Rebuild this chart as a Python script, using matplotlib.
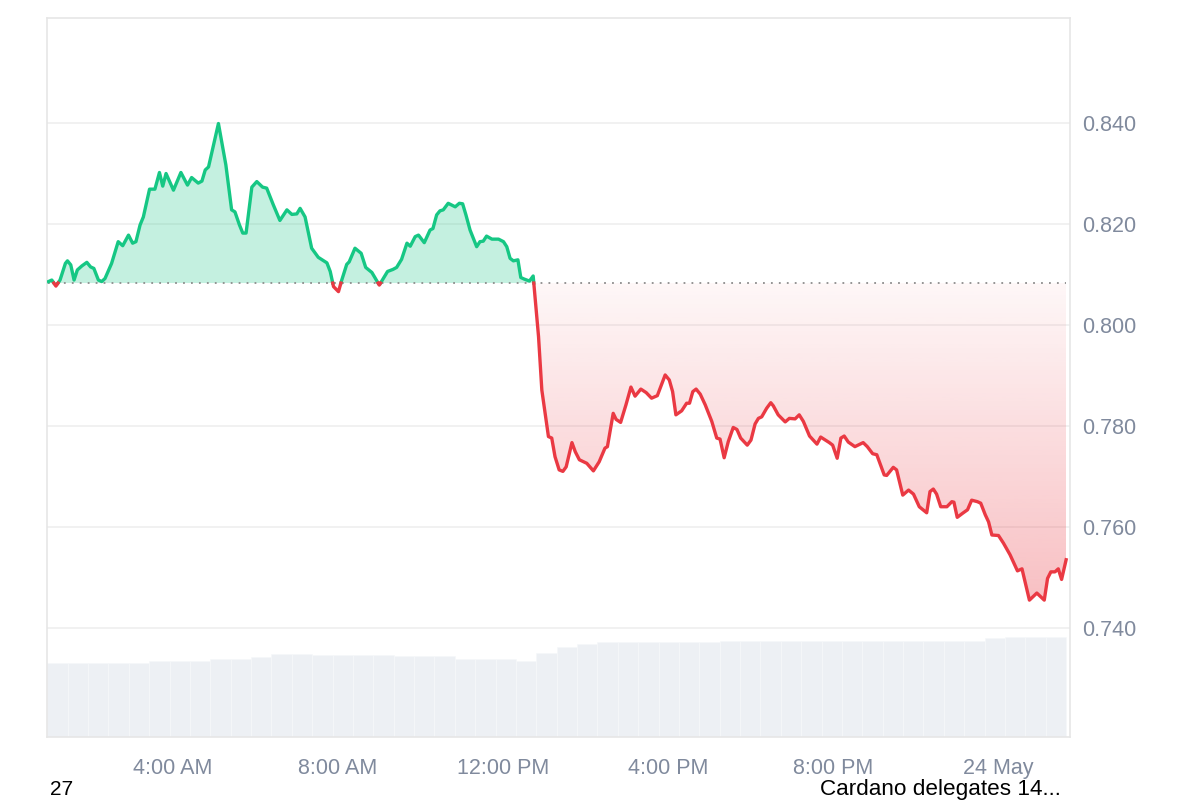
import numpy as np
import matplotlib.pyplot as plt
from matplotlib.colors import LinearSegmentedColormap, to_rgb
from matplotlib.patches import PathPatch
from matplotlib.path import Path

plt.rcParams["font.family"] = ["Liberation Sans", "DejaVu Sans"]

# ADA price, hours since 00:00 on 23 May
hours = [0.98, 1.06, 1.16, 1.26, 1.39, 1.44, 1.52, 1.60, 1.68, 1.79, 1.91, 2.00, 2.08, 2.19, 2.27,
         2.35, 2.51, 2.67, 2.78, 2.92, 3.02, 3.10, 3.20, 3.28, 3.43, 3.56, 3.67, 3.75, 3.83, 4.01,
         4.19, 4.35, 4.45, 4.61, 4.70, 4.78, 4.86, 5.10, 5.28, 5.42, 5.50, 5.61, 5.69, 5.77, 5.91,
         6.03, 6.17, 6.27, 6.43, 6.59, 6.76, 6.88, 7.00, 7.08, 7.20, 7.36, 7.52, 7.73, 7.81, 7.89,
         8.01, 8.09, 8.21, 8.27, 8.41, 8.56, 8.67, 8.82, 9.00, 9.20, 9.33, 9.42, 9.54, 9.67, 9.75,
         9.87, 9.95, 10.09, 10.23, 10.30, 10.39, 10.47, 10.55, 10.67, 10.84, 10.94, 11.02, 11.10,
         11.20, 11.36, 11.44, 11.52, 11.60, 11.73, 11.89, 12.01, 12.09, 12.17, 12.25, 12.36, 12.43,
         12.51, 12.64, 12.73, 12.86, 12.94, 13.10, 13.18, 13.26, 13.36, 13.45, 13.53, 13.67, 13.75,
         13.85, 14.03, 14.19, 14.33, 14.47, 14.53, 14.67, 14.74, 14.85, 14.98, 15.10, 15.20, 15.34,
         15.47, 15.60, 15.74, 15.93, 16.03, 16.11, 16.19, 16.33, 16.45, 16.52, 16.60, 16.68, 16.78,
         16.90, 17.06, 17.18, 17.26, 17.36, 17.46, 17.58, 17.67, 17.76, 17.92, 18.01, 18.11, 18.19,
         18.27, 18.39, 18.49, 18.55, 18.67, 18.84, 18.94, 19.08, 19.18, 19.28, 19.43, 19.61, 19.70,
         19.91, 19.99, 20.10, 20.19, 20.27, 20.37, 20.53, 20.73, 20.83, 20.96, 21.06, 21.24, 21.30,
         21.46, 21.54, 21.69, 21.83, 21.95, 22.09, 22.27, 22.35, 22.43, 22.51, 22.61, 22.76, 22.88,
         22.93, 23.01, 23.14, 23.26, 23.36, 23.50, 23.58, 23.69, 23.77, 23.85, 24.01, 24.13, 24.29,
         24.37, 24.47, 24.58, 24.76, 24.94, 25.12, 25.20, 25.28, 25.38, 25.46, 25.54, 25.65]
price = [0.8086, 0.8089, 0.8077, 0.8089, 0.8122, 0.8127, 0.8119, 0.8089, 0.8109, 0.8117, 0.8124,
         0.8115, 0.8112, 0.8089, 0.8086, 0.8092, 0.8122, 0.8165, 0.8157, 0.8178, 0.8162, 0.8165,
         0.8198, 0.8214, 0.8269, 0.8269, 0.8302, 0.8275, 0.8300, 0.8267, 0.8302, 0.8277, 0.8292,
         0.8281, 0.8285, 0.8307, 0.8313, 0.8399, 0.8317, 0.8228, 0.8224, 0.8198, 0.8182, 0.8182,
         0.8273, 0.8284, 0.8273, 0.8271, 0.8238, 0.8207, 0.8228, 0.8219, 0.8220, 0.8231, 0.8214,
         0.8152, 0.8134, 0.8123, 0.8106, 0.8076, 0.8066, 0.8089, 0.8120, 0.8125, 0.8152, 0.8142,
         0.8114, 0.8104, 0.8079, 0.8106, 0.8110, 0.8114, 0.8130, 0.8162, 0.8156, 0.8175, 0.8178,
         0.8163, 0.8188, 0.8191, 0.8218, 0.8226, 0.8228, 0.8241, 0.8234, 0.8241, 0.8240, 0.8218,
         0.8188, 0.8155, 0.8165, 0.8166, 0.8176, 0.8170, 0.8170, 0.8165, 0.8155, 0.8132, 0.8127,
         0.8129, 0.8094, 0.8091, 0.8087, 0.8097, 0.7977, 0.7871, 0.7779, 0.7776, 0.7739, 0.7713,
         0.7710, 0.7719, 0.7767, 0.7749, 0.7733, 0.7726, 0.7711, 0.7729, 0.7756, 0.7759, 0.7825,
         0.7813, 0.7807, 0.7842, 0.7877, 0.7859, 0.7873, 0.7866, 0.7855, 0.7860, 0.7901, 0.7891,
         0.7868, 0.7822, 0.7830, 0.7845, 0.7845, 0.7868, 0.7873, 0.7863, 0.7842, 0.7809, 0.7776,
         0.7774, 0.7737, 0.7769, 0.7797, 0.7793, 0.7776, 0.7762, 0.7772, 0.7804, 0.7815, 0.7818,
         0.7835, 0.7846, 0.7840, 0.7822, 0.7808, 0.7815, 0.7814, 0.7822, 0.7809, 0.7780, 0.7764,
         0.7778, 0.7767, 0.7762, 0.7736, 0.7776, 0.7780, 0.7768, 0.7759, 0.7767, 0.7759, 0.7745,
         0.7743, 0.7703, 0.7702, 0.7718, 0.7713, 0.7663, 0.7673, 0.7665, 0.7640, 0.7628, 0.7670,
         0.7675, 0.7665, 0.7640, 0.7640, 0.7650, 0.7649, 0.7619, 0.7627, 0.7634, 0.7653, 0.7650,
         0.7647, 0.7624, 0.7610, 0.7584, 0.7583, 0.7568, 0.7545, 0.7531, 0.7513, 0.7517, 0.7455,
         0.7469, 0.7455, 0.7498, 0.7511, 0.7511, 0.7517, 0.7496, 0.7535]
base = 0.8083  # opening price (dotted line)

# 24h volume ($M), roughly half-hour bars
vol_hours = [0.95 + 0.494 * i for i in range(50)]
volume = [297, 297, 297, 297, 297, 305, 305, 305, 311, 311, 321, 331, 331, 329, 329, 329, 329,
          324, 324, 324, 312, 312, 312, 305, 336, 359, 371, 379, 379, 379, 379, 379, 379, 385,
          385, 385, 385, 385, 385, 385, 385, 385, 385, 385, 385, 385, 395, 401, 401, 401]

xtick_hours = [4, 8, 12, 16, 20, 24]
xtick_labels = ["4:00 AM", "8:00 AM", "12:00 PM", "4:00 PM", "8:00 PM", "24 May"]
yticks = [0.740, 0.760, 0.780, 0.800, 0.820, 0.840]

GREEN = "#16c784"
RED = "#ea3943"
GREY = "#808a9d"

fig = plt.figure(figsize=(12, 8), dpi=100)
ax = fig.add_axes([0.0392, 0.0788, 0.8525, 0.8987])
axv = ax.twinx()
ax.set_zorder(axv.get_zorder() + 1)
ax.patch.set_visible(False)

# volume bars underneath
axv.bar(vol_hours, volume, width=0.494, align="edge", color="#edf0f4",
        edgecolor="#f6f8fa", linewidth=0.5)
axv.set_ylim(0, 2876)
axv.set_yticks([])
for s in axv.spines.values():
    s.set_visible(False)

# add crossing points so colours switch exactly on the base line
h = np.array(hours)
p = np.array(price)
hh, pp = [h[0]], [p[0]]
for i in range(1, len(h)):
    a, b = p[i - 1] - base, p[i] - base
    if a * b < 0:
        t = a / (a - b)
        hh.append(h[i - 1] + t * (h[i] - h[i - 1]))
        pp.append(base)
    hh.append(h[i])
    pp.append(p[i])
hh = np.array(hh)
pp = np.array(pp)

ax.fill_between(hh, pp, base, where=pp >= base, color=GREEN, alpha=0.25, lw=0, zorder=2)

# red gradient fill below the base line
red_poly = ax.fill_between(hh, pp, base, where=pp <= base, facecolor="none", lw=0)
clip = Path.make_compound_path(*red_poly.get_paths())
clip_patch = PathPatch(clip, transform=ax.transData, facecolor="none", edgecolor="none")
ax.add_patch(clip_patch)
r, g, b = to_rgb(RED)
cmap = LinearSegmentedColormap.from_list("redfade", [(r, g, b, 0.32), (r, g, b, 0.04)])
grad = np.linspace(0, 1, 256).reshape(-1, 1)
img = ax.imshow(grad, cmap=cmap, aspect="auto", origin="lower",
                extent=[hh.min(), hh.max(), pp.min(), base], zorder=2)
img.set_clip_path(clip_patch)

up = np.where(pp >= base, pp, np.nan)
down = np.where(pp <= base, pp, np.nan)
ax.plot(hh, up, color=GREEN, lw=2.4, solid_joinstyle="round", zorder=4)
ax.plot(hh, down, color=RED, lw=2.4, solid_joinstyle="round", zorder=4)

ax.hlines(base, hh[0], hh[-1], colors="#8c8c8c", linestyles=(0, (1, 3.4)), lw=1.3, zorder=3)

ax.set_xlim(0.945, 25.745)
ax.set_ylim(0.7184, 0.8608)
ax.set_xticks(xtick_hours)
ax.set_xticklabels(xtick_labels)
ax.set_yticks(yticks)
ax.set_yticklabels([f"{v:.3f}" for v in yticks])
ax.yaxis.tick_right()
ax.tick_params(axis="both", length=0, labelsize=15.5, labelcolor=GREY)
ax.tick_params(axis="x", pad=15)
ax.tick_params(axis="y", pad=9)
ax.grid(axis="y", color="#efefef", lw=1.2, zorder=0)
for s in ax.spines.values():
    s.set_color("#e6e6e6")
    s.set_linewidth(1.2)

fig.text(50 / 1200, 0.0065, "27", fontsize=15, color="black", ha="left", va="baseline")
fig.text(820 / 1200, 0.0065, "Cardano delegates 14...", fontsize=16.2, color="black",
         ha="left", va="baseline")

fig.savefig("out.png", dpi=100, facecolor="white")
